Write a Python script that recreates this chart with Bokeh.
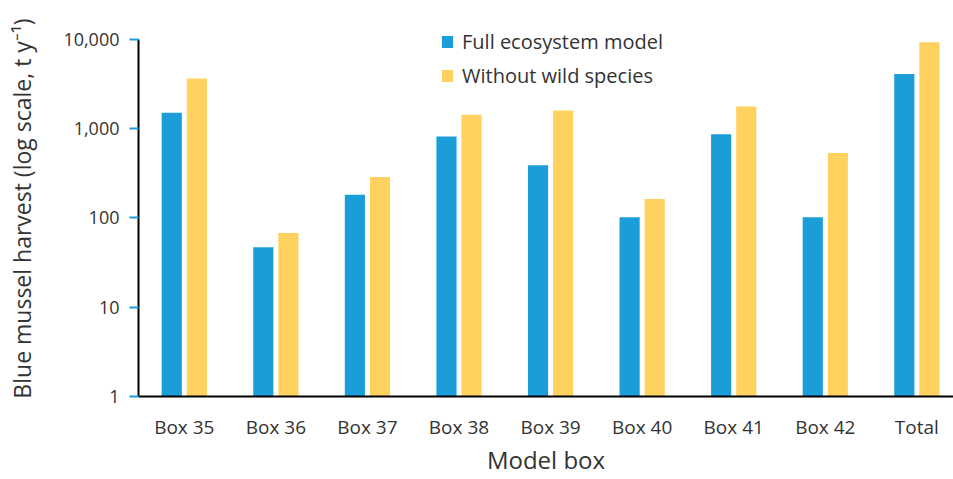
import numpy as np
from bokeh.plotting import figure
from bokeh.models import (ColumnDataSource, Range1d, FixedTicker,
                          NumeralTickFormatter, Legend, LegendItem)
from bokeh.transform import dodge
from bokeh.embed import file_html
from bokeh.resources import INLINE

# Harvest per model box (t/yr), two scenarios
boxes = ["Box 35", "Box 36", "Box 37", "Box 38", "Box 39",
         "Box 40", "Box 41", "Box 42", "Total"]
full_model = [1510, 47, 182, 820, 390, 102, 865, 102, 4100]
no_wild = [3650, 68, 287, 1430, 1600, 163, 1770, 535, 9300]
y_ticks = [1, 10, 100, 1000, 10000]

BLUE = "#1a9dd9"
YELLOW = "#ffd15f"
TEXT = "#333333"
FONT = "Open Sans"

centers = np.arange(len(boxes)) + 0.5
src = ColumnDataSource(dict(x=centers, box=boxes, full=full_model,
                            nowild=no_wild))

# a little headroom above the top decade so the legend is not clipped;
# the axis line itself stops at 10,000
p = figure(width=953, height=479, output_backend="svg", toolbar_location=None,
           x_range=Range1d(0, 8.9), y_range=Range1d(1, 16300),
           y_axis_type="log", min_border_left=138, min_border_right=0,
           min_border_top=20, min_border_bottom=83)
p.outline_line_color = None
p.grid.visible = False
p.background_fill_color = "white"

bw = 0.22
off = 0.137
r1 = p.vbar(x=dodge("x", -off), top="full", bottom=1, width=bw, source=src,
            fill_color=BLUE, line_color=None)
r2 = p.vbar(x=dodge("x", off), top="nowild", bottom=1, width=bw, source=src,
            fill_color=YELLOW, line_color=None)

# x axis: category labels at bar-group centres
xa = p.xaxis[0]
xa.ticker = FixedTicker(ticks=list(centers))
xa.major_label_overrides = {float(c): b for c, b in zip(centers, boxes)}
xa.major_tick_line_color = None
xa.minor_tick_line_color = None
xa.axis_line_color = "black"
xa.axis_line_width = 2
xa.major_label_standoff = 11
xa.major_label_text_font = FONT
xa.major_label_text_font_size = "19px"
xa.major_label_text_color = TEXT
xa.axis_label = "Model box"
xa.axis_label_text_font = FONT
xa.axis_label_text_font_size = "24px"
xa.axis_label_text_font_style = "normal"
xa.axis_label_text_color = TEXT
xa.axis_label_standoff = 0

# y axis: log decades
ya = p.yaxis[0]
ya.ticker = FixedTicker(ticks=y_ticks, minor_ticks=[])
ya.formatter = NumeralTickFormatter(format="0,0")
ya.bounds = (1, 10000)
ya.axis_line_color = "black"
ya.axis_line_width = 2
ya.major_tick_line_color = BLUE
ya.major_tick_line_width = 2
ya.major_tick_in = 0
ya.major_tick_out = 9
ya.minor_tick_line_color = None
ya.major_label_standoff = 10
ya.major_label_text_font = FONT
ya.major_label_text_font_size = "18px"
ya.major_label_text_color = TEXT
ya.axis_label = "Blue mussel harvest (log scale, t y\u207b\u00b9)"
ya.axis_label_text_font = FONT
ya.axis_label_text_font_size = "23px"
ya.axis_label_text_font_style = "normal"
ya.axis_label_text_color = TEXT
ya.axis_label_standoff = 22

legend = Legend(items=[LegendItem(label="Full ecosystem model", renderers=[r1]),
                       LegendItem(label="Without wild species", renderers=[r2])],
                location=(302, 307), orientation="vertical",
                glyph_width=14, glyph_height=15, label_standoff=8,
                label_height=24, spacing=7, padding=0, margin=0,
                border_line_color=None, background_fill_alpha=0,
                label_text_font=FONT, label_text_font_size="20px",
                label_text_color=TEXT)
p.add_layout(legend, "center")

open("out.html", "w").write(file_html(p, INLINE))
